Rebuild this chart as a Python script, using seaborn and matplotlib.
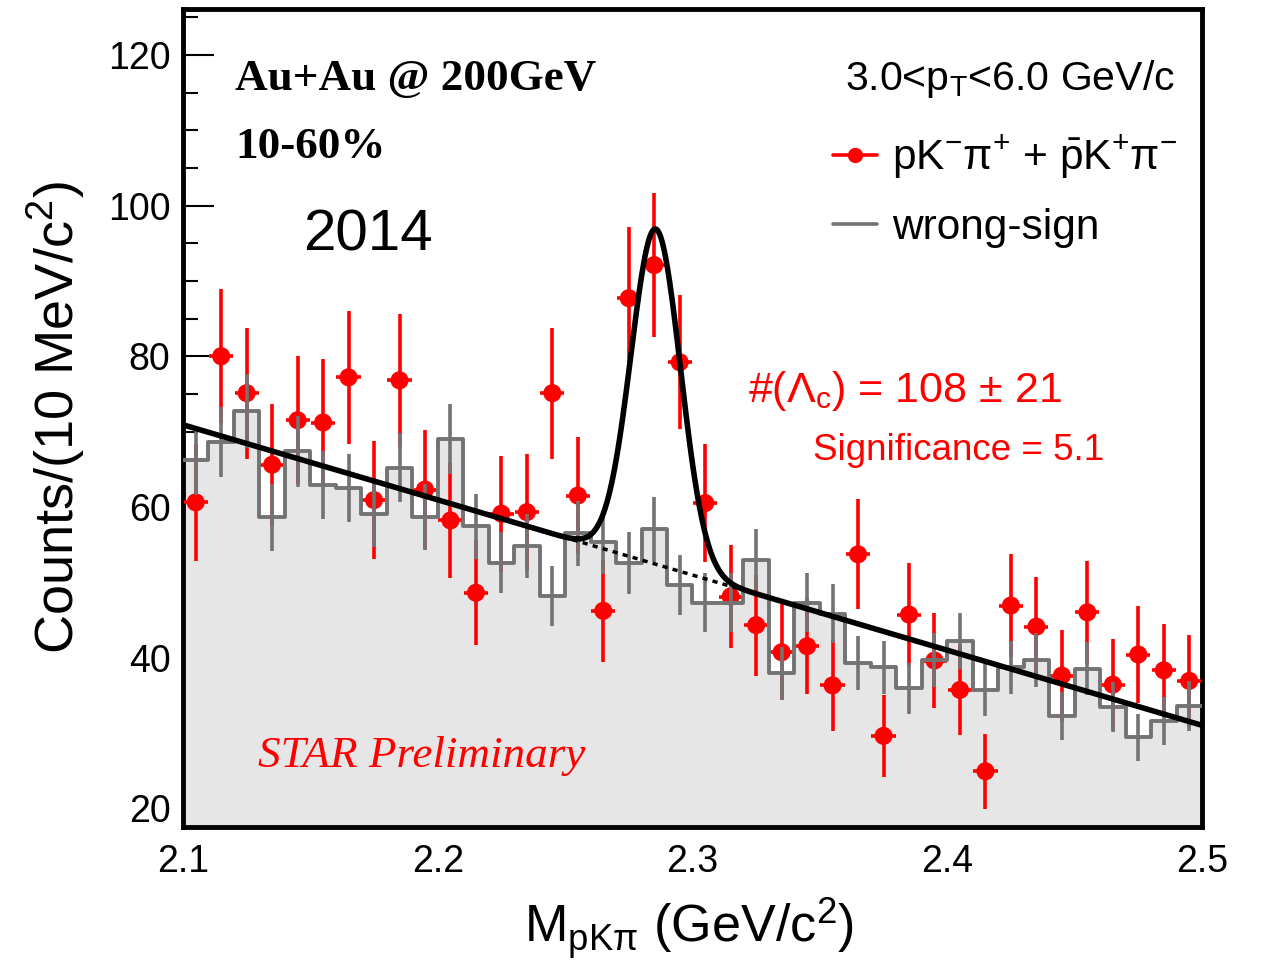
import numpy as np
import pandas as pd
import matplotlib
matplotlib.use("Agg")
import matplotlib.pyplot as plt
import seaborn as sns
from matplotlib.lines import Line2D
from matplotlib.ticker import MultipleLocator, FixedLocator

# ---------------- data ----------------
bin_lo, bin_hi, bin_w = 2.10, 2.50, 0.01
bin_edges = [float(v) for v in np.round(np.arange(bin_lo, bin_hi + bin_w / 2, bin_w), 3)]
bin_centers = [round(e + bin_w / 2, 4) for e in bin_edges[:-1]]

# right-sign pK-pi+ + pbar K+ pi- counts per 10 MeV
rs_counts = [60.6, 80.0, 75.1, 65.6, 71.5, 71.2, 77.2, 60.9, 76.8, 62.3,
             58.2, 48.6, 59.1, 59.3, 75.1, 61.5, 46.2, 87.7, 92.1, 79.2,
             60.5, 48.1, 44.3, 40.7, 41.5, 36.3, 53.7, 29.6, 45.7, 39.6,
             35.7, 24.9, 46.9, 44.1, 37.6, 46.0, 36.4, 40.4, 38.3, 36.9]
rs_errors = [7.8, 8.9, 8.7, 8.1, 8.5, 8.4, 8.8, 7.8, 8.8, 7.9,
             7.6, 7.0, 7.7, 7.7, 8.7, 7.8, 6.8, 9.4, 9.6, 8.9,
             7.8, 6.9, 6.7, 6.4, 6.4, 6.0, 7.3, 5.4, 6.8, 6.3,
             6.0, 5.0, 6.8, 6.6, 6.1, 6.8, 6.0, 6.4, 6.2, 6.1]

# wrong-sign (scaled) histogram
ws_counts = [66.2, 68.6, 72.7, 58.6, 67.4, 62.9, 62.5, 59.1, 65.2, 58.7,
             69.0, 57.4, 52.6, 54.8, 48.2, 56.5, 55.3, 52.5, 57.0, 49.6,
             47.3, 47.3, 53.0, 37.9, 47.3, 45.8, 39.3, 38.7, 35.9, 39.7,
             42.2, 35.7, 38.7, 39.7, 32.2, 38.5, 33.4, 29.4, 31.6, 33.6]
ws_errors = [4.6, 4.7, 4.9, 4.4, 4.7, 4.5, 4.5, 4.4, 4.6, 4.4,
             4.7, 4.3, 4.1, 4.2, 4.0, 4.3, 4.2, 4.1, 4.3, 4.0,
             3.9, 3.9, 4.1, 3.5, 3.9, 3.9, 3.6, 3.5, 3.4, 3.6,
             3.7, 3.4, 3.5, 3.6, 3.2, 3.5, 3.3, 3.1, 3.2, 3.3]

# fit: linear background + gaussian
bkg_at_lo = 70.9
bkg_slope = -99.75
gaus_mean = 2.2856
gaus_sigma = 0.0097
gaus_amp = 44.5

x_ticks = [2.1, 2.2, 2.3, 2.4, 2.5]
x_ticklabels = ["2.1", "2.2", "2.3", "2.4", "2.5"]
y_ticks = [20, 40, 60, 80, 100, 120]
y_ticklabels = ["20", "40", "60", "80", "100", "120"]

df_rs = pd.DataFrame({"m": bin_centers, "n": rs_counts, "err": rs_errors})
df_ws = pd.DataFrame({"m": bin_centers, "n": ws_counts, "err": ws_errors})

x_fit = np.linspace(bin_lo, bin_hi, 801)
bkg_fit = bkg_at_lo + bkg_slope * (x_fit - bin_lo)
tot_fit = bkg_fit + gaus_amp * np.exp(-0.5 * ((x_fit - gaus_mean) / gaus_sigma) ** 2)
df_fit = pd.DataFrame({"m": x_fit, "bkg": bkg_fit, "tot": tot_fit})

# ---------------- style ----------------
sns.set_theme(style="ticks")
plt.rcParams["font.family"] = ["Liberation Sans", "DejaVu Sans"]
plt.rcParams["mathtext.fontset"] = "custom"
plt.rcParams["mathtext.rm"] = "Liberation Sans"
plt.rcParams["mathtext.it"] = "Liberation Sans:italic"
plt.rcParams["mathtext.bf"] = "Liberation Sans:bold"
plt.rcParams["text.color"] = "black"
plt.rcParams["axes.labelcolor"] = "black"
plt.rcParams["xtick.color"] = "black"
plt.rcParams["ytick.color"] = "black"

RED = "#ff0000"
GRAY = "#737373"
FILL = "#e6e6e6"

fig = plt.figure(figsize=(12.61, 9.65), dpi=100)
ax = fig.add_axes([0.1451, 0.1430, 0.8081, 0.8477])

# wrong-sign fill
sns.histplot(data=df_ws, x="m", weights="n", bins=bin_edges, element="step",
             fill=True, facecolor=FILL, edgecolor="none", alpha=1, linewidth=0,
             ax=ax, zorder=1)

# right-sign points with errors
ax.errorbar(df_rs["m"], df_rs["n"], yerr=df_rs["err"], xerr=bin_w / 2 * 0.95,
            fmt="none", ecolor=RED, elinewidth=2.6, capsize=0, zorder=3)
sns.scatterplot(data=df_rs, x="m", y="n", color=RED, s=170, edgecolor="none",
                ax=ax, zorder=4, legend=False)

# wrong-sign step outline and errors
sns.histplot(data=df_ws, x="m", weights="n", bins=bin_edges, element="step",
             fill=False, color=GRAY, linewidth=2.8, ax=ax, zorder=5)
ax.errorbar(df_ws["m"], df_ws["n"], yerr=df_ws["err"], fmt="none",
            ecolor=GRAY, elinewidth=2.6, capsize=0, zorder=5)

# fit
sns.lineplot(data=df_fit, x="m", y="bkg", color="black", linewidth=2.5,
             linestyle=(0, (1.5, 1.5)), ax=ax, zorder=6)
sns.lineplot(data=df_fit, x="m", y="tot", color="black", linewidth=4,
             ax=ax, zorder=7)

# axes
ax.set_xlim(bin_lo, bin_hi)
ax.set_ylim(17.5, 126.1)
ax.xaxis.set_major_locator(FixedLocator(x_ticks))
ax.set_xticklabels(x_ticklabels)
ax.yaxis.set_major_locator(FixedLocator(y_ticks))
ax.set_yticklabels(y_ticklabels)
ax.xaxis.set_minor_locator(MultipleLocator(0.02))
ax.yaxis.set_minor_locator(MultipleLocator(5))
ax.tick_params(axis="both", which="both", direction="in", top=False,
               right=False, colors="black", labelcolor="black", labelsize=27)
ax.tick_params(axis="y", which="major", length=22, width=1.5, pad=9)
ax.tick_params(axis="y", which="minor", length=11, width=1.5)
ax.tick_params(axis="x", which="major", length=18, width=1.5, pad=12)
ax.tick_params(axis="x", which="minor", length=9, width=1.5)
for s in ax.spines.values():
    s.set_linewidth(3.5)
    s.set_color("black")
    s.set_visible(True)

ax.set_xlabel(r"M$_{\mathrm{pK\pi}}$ (GeV/c$^{2}$)", fontsize=37.5, color="black")
ax.set_ylabel(r"Counts/(10 MeV/c$^{2}$)", fontsize=39, color="black")
ax.xaxis.set_label_coords(0.497, -0.084)
ax.yaxis.set_label_coords(-0.094, 0.5)

# texts
ax.text(0.051, 0.901, "Au+Au @ 200GeV", transform=ax.transAxes, fontsize=32.5,
        fontweight="bold", family="Liberation Serif", va="baseline", color="black")
ax.text(0.051, 0.818, "10-60%", transform=ax.transAxes, fontsize=32.5,
        fontweight="bold", family="Liberation Serif", va="baseline", color="black")
ax.text(0.118, 0.705, "2014", transform=ax.transAxes, fontsize=42,
        va="baseline", color="black")
ax.text(0.0736, 0.073, "STAR Preliminary", transform=ax.transAxes, fontsize=32.5,
        style="italic", family="Liberation Serif", color=RED, va="baseline")
ax.text(0.650, 0.901, r"3.0<p$_{\mathrm{T}}$<6.0 GeV/c", transform=ax.transAxes,
        fontsize=29.5, va="baseline", color="black")
ax.text(0.5545, 0.520, r"#($\Lambda_{\mathrm{c}}$) = 108 ± 21",
        transform=ax.transAxes, fontsize=31, color=RED, va="baseline")
ax.text(0.618, 0.449, "Significance = 5.1", transform=ax.transAxes,
        fontsize=26.5, color=RED, va="baseline")

handles = [Line2D([], [], color=RED, marker="o", markersize=10, linewidth=2.6),
           Line2D([], [], color=GRAY, linewidth=2.6)]
labels = [r"pK$^{-}$π$^{+}$ + $\bar{\mathrm{p}}$K$^{+}$π$^{-}$", "wrong-sign"]
leg = ax.legend(handles, labels, loc="upper left", bbox_to_anchor=(0.621, 0.868),
                frameon=False, fontsize=30.5, handlelength=1.05, handletextpad=0.35,
                labelspacing=0.62, borderaxespad=0)
for t in leg.get_texts():
    t.set_color("black")

fig.savefig("out.png", dpi=100)
